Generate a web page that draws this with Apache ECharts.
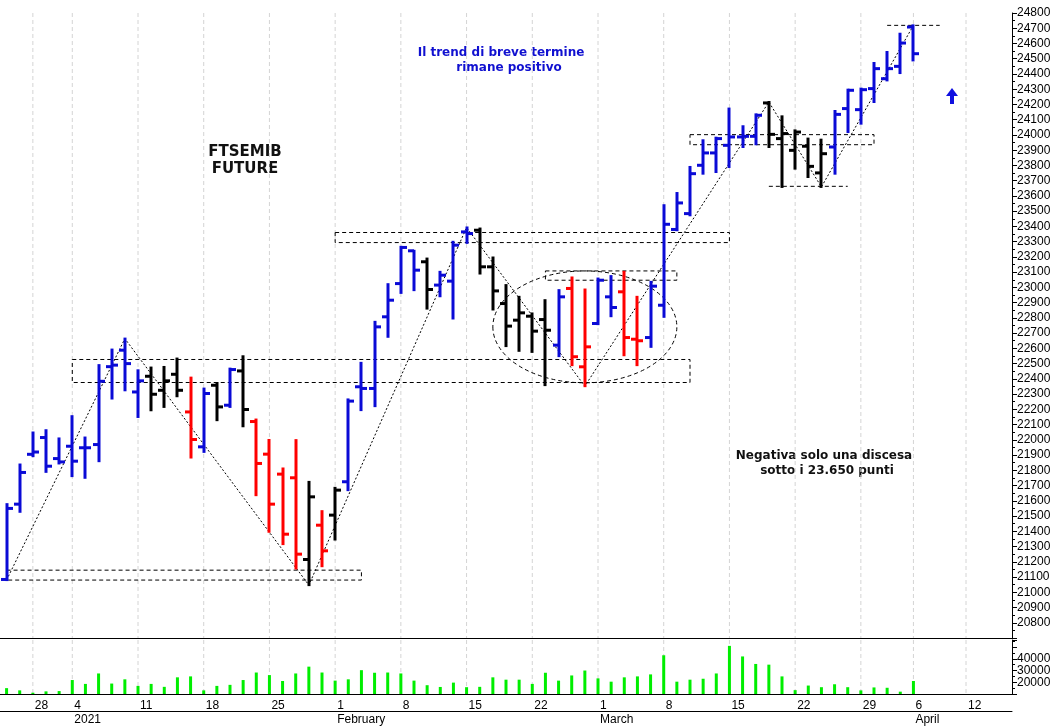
<!DOCTYPE html>
<html><head><meta charset="utf-8">
<script src="https://cdn.jsdelivr.net/npm/echarts@6/dist/echarts.min.js"></script>
<style>html,body{margin:0;padding:0;background:#fff}#c{width:1060px;height:726px}</style>
</head><body><div id="c"></div>
<script>
// ---- categories (trading days, plus empty future days)
const dates = ['2020-12-23','2020-12-24','2020-12-28','2020-12-29','2020-12-30',
'2021-01-04','2021-01-05','2021-01-06','2021-01-07','2021-01-08',
'2021-01-11','2021-01-12','2021-01-13','2021-01-14','2021-01-15',
'2021-01-18','2021-01-19','2021-01-20','2021-01-21','2021-01-22',
'2021-01-25','2021-01-26','2021-01-27','2021-01-28','2021-01-29',
'2021-02-01','2021-02-02','2021-02-03','2021-02-04','2021-02-05',
'2021-02-08','2021-02-09','2021-02-10','2021-02-11','2021-02-12',
'2021-02-15','2021-02-16','2021-02-17','2021-02-18','2021-02-19',
'2021-02-22','2021-02-23','2021-02-24','2021-02-25','2021-02-26',
'2021-03-01','2021-03-02','2021-03-03','2021-03-04','2021-03-05',
'2021-03-08','2021-03-09','2021-03-10','2021-03-11','2021-03-12',
'2021-03-15','2021-03-16','2021-03-17','2021-03-18','2021-03-19',
'2021-03-22','2021-03-23','2021-03-24','2021-03-25','2021-03-26',
'2021-03-29','2021-03-30','2021-03-31','2021-04-01','2021-04-06',
'2021-04-07','2021-04-08','2021-04-09','2021-04-12','2021-04-13','2021-04-14','2021-04-15'];
const dayLabelDates = ['2020-12-28','2021-01-04','2021-01-11','2021-01-18','2021-01-25','2021-02-01','2021-02-08','2021-02-15','2021-02-22','2021-03-01','2021-03-08','2021-03-15','2021-03-22','2021-03-29','2021-04-06','2021-04-12'];
const monthLabels = {'2021-01-04':'2021','2021-02-01':'February','2021-03-01':'March','2021-04-06':'April'};

// ---- OHLC
const open  = [21084,21578,21905,22015,21877,21958,21948,21969,22480,22588,22314,22417,22325,22430,22183,21954,22358,22227,22452,22120,21906,21775,21751,21215,21440,21506,21725,22348,22337,22807,23025,23240,23168,23015,23041,23364,23375,23135,22894,22785,22811,22789,22621,22993,22479,22763,22938,22971,22660,22671,22883,23380,23484,23801,23882,23932,23987,23991,24210,23976,23899,23926,23751,23921,24173,24166,24304,24369,24450,24708];
const high  = [21578,21838,22048,22063,22009,22155,22015,22490,22592,22664,22456,22474,22478,22533,22408,22336,22373,22467,22548,22133,21999,21812,21998,21724,21532,21685,22265,22505,22774,23021,23266,23240,23189,23102,23299,23393,23386,23196,23015,22938,22829,22916,22982,23065,22986,23058,23074,23102,22938,23036,23539,23619,23790,23965,23982,24173,24057,24135,24216,24122,24030,23976,23969,24157,24297,24304,24472,24544,24664,24719];
const low   = [21080,21528,21893,21790,21845,21762,21751,21860,22271,22325,22150,22194,22216,22286,21884,21921,22129,22216,22089,21637,21397,21316,21156,21047,21171,21346,21670,22195,22221,22676,22964,22982,22861,22942,22796,23292,23091,22855,22615,22584,22577,22359,22549,22490,22352,22759,22811,22555,22490,22610,22807,23375,23473,23746,23757,23790,23921,23939,23921,23659,23779,23724,23659,23746,24019,24074,24216,24358,24406,24489];
const close = [21550,21786,21920,21827,21855,21860,21948,22384,22490,22500,22387,22299,22387,22325,22002,22304,22216,22461,22199,21845,21578,21381,21250,21626,21272,21670,22254,22337,22741,22916,23262,23113,22986,23080,23277,23353,23135,22977,22746,22833,22713,22719,22938,22545,22610,23047,22868,22671,22650,23008,23414,23554,23746,23882,23976,23987,23991,24129,24004,24009,24019,23794,23877,24135,24293,24297,24435,24435,24603,24533];
// trend per bar: u = blue, n = black, d = red
const trendCodes = ['u','u','u','u','u','u','u','u','u','u','u','n','n','n','d','u','n','u','n','d','d','d','d','n','d','n','u','u','u','u','u','u','n','u','u','u','n','n','n','n','n','n','u','d','d','u','u','d','d','u','u','u','u','u','u','u','u','u','n','n','n','n','n','u','u','u','u','u','u','u'];
const volume = [15000,13100,11100,12250,12500,21900,18600,27500,18900,22500,16900,18600,16100,24200,25000,13100,16900,17800,21900,28300,26100,21100,27500,33300,28300,21400,22500,30300,28100,28300,27500,21400,17500,16000,19700,15800,16100,24200,22200,22200,18600,28100,21400,25800,30000,23300,20500,24200,25000,26700,43000,20500,22200,23000,27500,51000,42000,35600,35000,25000,13300,17200,15800,18300,15800,13100,15600,15300,12000,21100];

// annotations: [xFrom, xTo, priceLow, priceHigh] in category index units
const boxes = [[-0.45,26.96,21080,21145],[5.05,51.9,22376,22527],[25.03,54.8,23294,23360],[40.94,50.86,23047,23108],[51.87,65.83,23936,24002]];
const hlines = [[57.9,63.55,23663],[66.8,70.7,24719]];
const ellipse = [36.9,50.8,22374,23108];
const pivots = [[0,21080],[9,22664],[23,21047],[35,23393],[44,22352],[58,24216],[62,23659],[69,24719]];

const COLORS = {u:'#0a0ad6', n:'#000000', d:'#ff0000'};
const dayIdx = new Set(dayLabelDates.map(d => dates.indexOf(d)));
const monthIdx = new Set(Object.keys(monthLabels).map(d => dates.indexOf(d)));
const ohlcData = open.map((o,i)=>[i,o,high[i],low[i],close[i]]);
const font = 'Liberation Sans, Arial, sans-serif';

const chart = echarts.init(document.getElementById('c'));
function gridLines(params, api){
  const cs = params.coordSys; const x = api.coord([api.value(0), 0])[0];
  return {type:'line', shape:{x1:x,y1:cs.y,x2:x,y2:cs.y+cs.height}, style:{stroke:'#d4d4d4', lineWidth:1, lineDash:[4,3]}, silent:true};
}
const monday = [...dayIdx].map(i=>[i,0]);
chart.setOption({
  animation:false,
  grid:[{left:-1,right:48,top:13,height:625},{left:-1,right:48,top:640,height:55}],
  xAxis:[
    {type:'category',gridIndex:0,data:dates,boundaryGap:true,axisLine:{show:true,lineStyle:{color:'#000',width:1}},axisTick:{show:false},axisLabel:{show:false},splitLine:{show:false}},
    {type:'category',gridIndex:1,data:dates,boundaryGap:true,axisLine:{lineStyle:{color:'#000'}},
      axisTick:{alignWithLabel:true,interval:(i)=>dayIdx.has(i),length:17,lineStyle:{color:'#000'}},
      axisLabel:{interval:(i)=>dayIdx.has(i),formatter:(v)=>String(+v.slice(8)),align:'left',margin:6,padding:[0,0,0,2],fontSize:12,color:'#000',fontFamily:font}},
    {type:'category',gridIndex:1,data:dates,boundaryGap:true,position:'bottom',offset:17,axisLine:{lineStyle:{color:'#000'}},
      axisTick:{alignWithLabel:true,interval:(i)=>monthIdx.has(i),length:14,lineStyle:{color:'#000'}},
      axisLabel:{interval:(i)=>monthIdx.has(i),formatter:(v)=>monthLabels[v]||'',align:'left',margin:3,padding:[0,0,0,2],fontSize:12,color:'#000',fontFamily:font}}
  ],
  yAxis:[
    {type:'value',gridIndex:0,position:'right',min:20700,max:24800,interval:100,splitLine:{show:false},
      axisLine:{show:true,lineStyle:{color:'#000'}},axisTick:{show:true,length:5,lineStyle:{color:'#000'}},
      minorTick:{show:true,splitNumber:2,length:3,lineStyle:{color:'#000'}},
      axisLabel:{formatter:(v)=>v===20700?'':String(v),fontSize:12,color:'#000',margin:5,fontFamily:font}},
    {type:'value',gridIndex:1,position:'right',min:10000,max:56000,interval:10000,splitLine:{show:false},
      axisLine:{show:true,lineStyle:{color:'#000'}},axisTick:{show:true,length:5,lineStyle:{color:'#000'}},
      minorTick:{show:true,splitNumber:2,length:3,lineStyle:{color:'#000'}},
      axisLabel:{formatter:(v)=>(v>=20000&&v<=40000)?String(v):'',fontSize:12,color:'#000',margin:5,fontFamily:font}}
  ],
  series:[
    {type:'custom',xAxisIndex:0,yAxisIndex:0,data:monday,renderItem:gridLines,z:0,silent:true},
    {type:'custom',xAxisIndex:1,yAxisIndex:1,data:monday,renderItem:gridLines,z:0,silent:true},
    {type:'custom',name:'box',xAxisIndex:0,yAxisIndex:0,data:boxes,encode:{x:0,y:2},z:2,silent:true,
      renderItem:(p,api)=>{const a=api.coord([api.value(0),api.value(3)]),b=api.coord([api.value(1),api.value(2)]);
        return {type:'rect',shape:{x:a[0],y:a[1],width:b[0]-a[0],height:b[1]-a[1]},style:{fill:null,stroke:'#000',lineWidth:1,lineDash:[4,3]}};}},
    {type:'custom',name:'hl',xAxisIndex:0,yAxisIndex:0,data:hlines,encode:{x:0,y:2},z:2,silent:true,
      renderItem:(p,api)=>{const a=api.coord([api.value(0),api.value(2)]),b=api.coord([api.value(1),api.value(2)]);
        return {type:'line',shape:{x1:a[0],y1:a[1],x2:b[0],y2:b[1]},style:{stroke:'#000',lineWidth:1,lineDash:[4,3]}};}},
    {type:'custom',name:'ell',xAxisIndex:0,yAxisIndex:0,data:[ellipse],encode:{x:0,y:2},z:2,silent:true,
      renderItem:(p,api)=>{const a=api.coord([api.value(0),api.value(3)]),b=api.coord([api.value(1),api.value(2)]);
        return {type:'path',shape:{pathData:'M0 50 A50 50 0 1 0 100 50 A50 50 0 1 0 0 50 Z',x:a[0],y:a[1],width:b[0]-a[0],height:b[1]-a[1],layout:'cover'},style:{fill:null,stroke:'#000',lineWidth:1,lineDash:[4,3]}};}},
    {type:'line',xAxisIndex:0,yAxisIndex:0,data:pivots,symbol:'none',z:2,silent:true,lineStyle:{color:'#000',width:1,type:[2,2]}},
    {type:'custom',name:'ohlc',xAxisIndex:0,yAxisIndex:0,data:ohlcData,encode:{x:0,y:[1,2,3,4]},z:5,
      renderItem:(p,api)=>{const i=api.value(0);const h=api.coord([i,api.value(2)]),l=api.coord([i,api.value(3)]),o=api.coord([i,api.value(1)]),c=api.coord([i,api.value(4)]);
        const col=COLORS[trendCodes[i]];const st={stroke:col,lineWidth:3};const x=Math.round(h[0]);
        return {type:'group',children:[
          {type:'line',shape:{x1:x,y1:h[1]-1,x2:x,y2:l[1]+1},style:st},
          {type:'line',shape:{x1:x-6,y1:o[1],x2:x,y2:o[1]},style:st},
          {type:'line',shape:{x1:x,y1:c[1],x2:x+6,y2:c[1]},style:st}]};}},
    {type:'bar',xAxisIndex:1,yAxisIndex:1,data:volume,barWidth:3,itemStyle:{color:'#00ee00'},z:3}
  ],
  graphic:[
    {type:'text',x:245,y:145,style:{text:'FTSEMIB',font:'bold 15px DejaVu Sans',fill:'#111',textAlign:'center'}},
    {type:'text',x:245,y:162,style:{text:'FUTURE',font:'bold 15px DejaVu Sans',fill:'#111',textAlign:'center'}},
    {type:'text',x:501,y:47,style:{text:'Il trend di breve termine',font:'bold 12px DejaVu Sans',fill:'#1010d0',textAlign:'center'}},
    {type:'text',x:509,y:62,style:{text:'rimane positivo',font:'bold 12px DejaVu Sans',fill:'#1010d0',textAlign:'center'}},
    {type:'text',x:824,y:450,style:{text:'Negativa solo una discesa',font:'bold 12px DejaVu Sans',fill:'#111',textAlign:'center'}},
    {type:'text',x:827,y:465,style:{text:'sotto i 23.650 punti',font:'bold 12px DejaVu Sans',fill:'#111',textAlign:'center'}},
    {type:'polygon',shape:{points:[[952,88],[958,96],[954,96],[954,104],[950,104],[950,96],[946,96]]},style:{fill:'#1010e0'}}
  ]
});
</script>
</body></html>
